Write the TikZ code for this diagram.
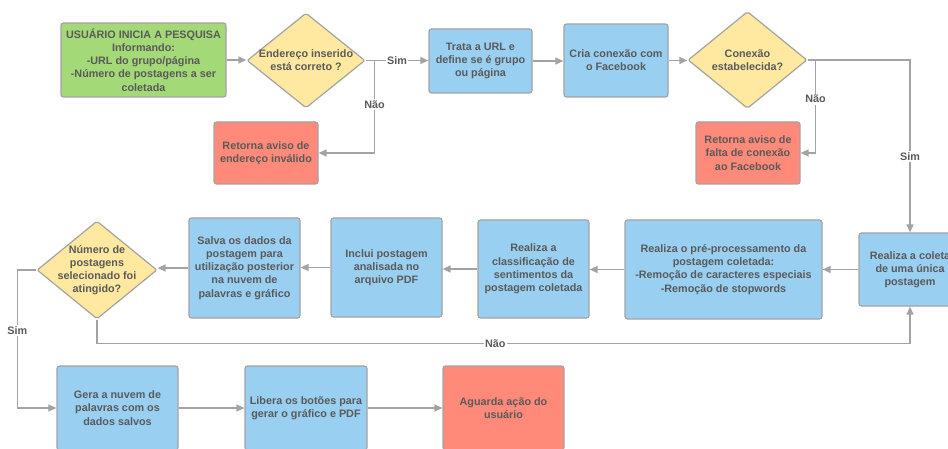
\documentclass[tikz,border=0pt]{standalone}
\usepackage{fontspec}
\setmainfont{Liberation Sans}
\usetikzlibrary{shapes.geometric,arrows.meta}
\definecolor{cgreen}{HTML}{A3D977}
\definecolor{cblue}{HTML}{99CFF0}
\definecolor{cyellow}{HTML}{FFE8A0}
\definecolor{cred}{HTML}{FF8A7A}
\definecolor{ctext}{HTML}{5A5A5A}
\definecolor{cline}{HTML}{A3A3A3}
\tikzset{
  txt/.style={font=\bfseries\fontsize{10.8}{13.2}\selectfont, text=ctext, align=center},
  box/.style={draw=cline, line width=1.2pt, rounded corners=2.5pt, inner sep=0pt, txt},
  bluebox/.style={box, fill=cblue},
  redbox/.style={box, fill=cred},
  greenbox/.style={box, fill=cgreen},
  decision/.style={diamond, draw=cline, line width=1.2pt, fill=cyellow, inner sep=0pt, rounded corners=2pt},
  conn/.style={draw=cline, line width=1.3pt, -{Triangle[length=8pt,width=7pt]}},
  lbl/.style={fill=white, inner sep=1.5pt, font=\bfseries\fontsize{10.8}{12}\selectfont, text=ctext}
}
\begin{document}
\begin{tikzpicture}[x=1pt,y=-1pt]
\useasboundingbox (0,0) rectangle (948,449);
\clip (0,0) rectangle (948,449);
\fill[white] (0,0) rectangle (948,449);

% row 1
\node[greenbox, minimum width=165pt, minimum height=74pt] (g) at (143.5,60)
  {USUÁRIO INICIA A PESQUISA\\Informando:\\-URL do grupo/página\\-Número de postagens a ser\\coletada};
\node[decision, minimum width=118pt, minimum height=95pt,
  label={[txt]center:Endereço inserido\\está correto ?}] (d1) at (306,60.5) {};
\node[redbox, minimum width=104pt, minimum height=62pt] (r1) at (266,153)
  {Retorna aviso de\\endereço inválido};
\node[bluebox, minimum width=103pt, minimum height=64pt] (t) at (480.5,61)
  {Trata a URL e\\define se é grupo\\ou página};
\node[bluebox, minimum width=104pt, minimum height=73pt] (c) at (616,60.5)
  {Cria conexão com\\o Facebook};
\node[decision, minimum width=119pt, minimum height=97pt,
  label={[txt]center:Conexão\\estabelecida?}] (d2) at (747.5,60) {};
\node[redbox, minimum width=104pt, minimum height=62pt] (r2) at (748,153)
  {Retorna aviso de\\falta de conexão\\ao Facebook};

% row 2
\node[bluebox, minimum width=102pt, minimum height=73pt] (col) at (910,269.5)
  {Realiza a coleta\\de uma única\\postagem};
\node[bluebox, minimum width=197pt, minimum height=99pt] (pre) at (723.5,269.5)
  {Realiza o pré-processamento da\\postagem coletada:\\-Remoção de caracteres especiais\\-Remoção de stopwords};
\node[bluebox, minimum width=111pt, minimum height=98pt] (cls) at (533.5,269)
  {Realiza a\\classificação de\\sentimentos da\\postagem coletada};
\node[bluebox, minimum width=111pt, minimum height=99pt] (inc) at (386.5,267.5)
  {Inclui postagem\\analisada no\\arquivo PDF};
\node[bluebox, minimum width=111pt, minimum height=100pt] (sal) at (244.5,268)
  {Salva os dados da\\postagem para\\utilização posterior\\na nuvem de\\palavras e gráfico};
\node[decision, minimum width=120pt, minimum height=98pt,
  label={[txt]center:Número de\\postagens\\selecionado foi\\atingido?}] (d3) at (97,270) {};

% row 3
\node[bluebox, minimum width=121pt, minimum height=84pt] (gera) at (117.5,408)
  {Gera a nuvem de\\palavras com os\\dados salvos};
\node[bluebox, minimum width=122pt, minimum height=84pt] (lib) at (306,408)
  {Libera os botões para\\gerar o gráfico e PDF};
\node[redbox, minimum width=121pt, minimum height=84pt] (ag) at (503.5,408)
  {Aguarda ação do\\usuário};

% connectors row 1
\draw[conn] (g.east) -- (g.east -| d1.west);
\draw[conn] (d1.east) -- (d1.east -| t.west) node[lbl, midway] {Sim};
\draw[conn] (d1.east) -- ++(9,0) |- node[lbl, pos=0.24] {Não} (r1.east);
\draw[conn] (t.east) -- (t.east -| c.west);
\draw[conn] (c.east) -- (c.east -| d2.west);
\draw[conn] (d2.east) -- ++(8,0) |- node[lbl, pos=0.21] {Não} (r2.east);
\draw[conn] (d2.east) -| node[lbl, pos=0.78] {Sim} (col.north);

% connectors row 2
\draw[conn] (col.west) -- (col.west -| pre.east);
\draw[conn] (pre.west) -- (pre.west -| cls.east);
\draw[conn] (cls.west) -- (cls.west -| inc.east);
\draw[conn] (inc.west) -- (inc.west -| sal.east);
\draw[conn] (sal.west) -- (sal.west -| d3.east);
\draw[conn] (d3.west) -- ++(-19,0) |- node[lbl, pos=0.22] {Sim} (gera.west);
\draw[conn] (d3.south) -- ++(0,24) -| node[lbl, pos=0.245] {Não} (col.south);

% connectors row 3
\draw[conn] (gera.east) -- (gera.east -| lib.west);
\draw[conn] (lib.east) -- (lib.east -| ag.west);
\end{tikzpicture}
\end{document}
